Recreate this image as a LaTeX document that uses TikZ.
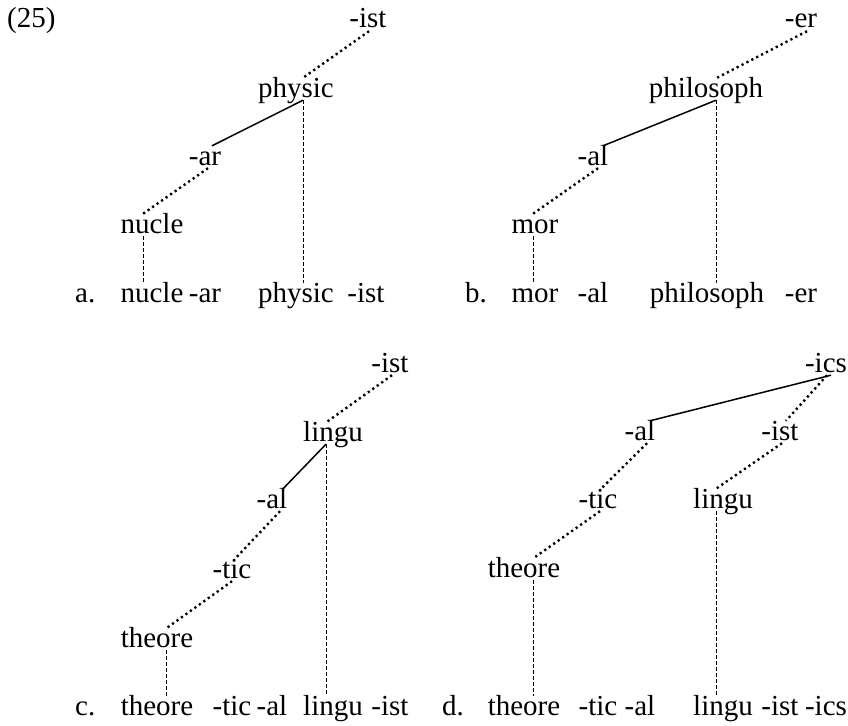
\documentclass[tikz,border=0pt]{standalone}
\usepackage{fontspec}
\setmainfont{Liberation Serif}
\usepackage{tikz}
\tikzset{
	morph/.style    ={anchor=base, inner sep=2pt, text height=17pt, text depth=1pt},
	exlabel/.style  ={anchor=base west, inner sep=0pt},
	dotlink/.style  ={line width=2.4pt, dash pattern=on 2.2pt off 3.3pt},
	solidlink/.style={line width=1.5pt},
	dashlink/.style ={line width=0.9pt, dash pattern=on 3.5pt off 2.5pt},
}
\begin{document}
\begin{tikzpicture}[x=1pt, y=-1pt, font=\fontsize{29}{35}\selectfont]
	\useasboundingbox (0,0) rectangle (848,725);
	\node[exlabel] (num) at (7,28) {(25)};
	% a.
	\node[morph] (aIst) at (368,28) {-ist};
	\node[morph] (aPhys) at (296,97) {physic};
	\node[morph] (aAr) at (205,165) {-ar};
	\node[morph] (aNucle) at (152,233) {nucle};
	\node[exlabel] (aLab) at (75,302) {a.};
	\node[morph] (aNucleS) at (152,302) {nucle};
	\node[morph] (aArS) at (205,302) {-ar};
	\node[morph] (aPhysS) at (296,302) {physic};
	\node[morph] (aIstS) at (366,302) {-ist};
	\draw[dotlink] ([xshift=1pt]aIst.south) -- ([xshift=7pt]aPhys.north);
	\draw[solidlink] ([xshift=7pt]aPhys.south) -- ([xshift=7pt]aAr.north);
	\draw[dashlink] ([xshift=7pt]aPhys.south) -- ([xshift=7pt]aPhysS.north);
	\draw[dotlink] ([xshift=3pt]aAr.south) -- ([xshift=-9pt]aNucle.north);
	\draw[dashlink] ([xshift=-9pt]aNucle.south) -- ([xshift=-9pt]aNucleS.north);
	% b.
	\node[morph] (bEr) at (801,28) {-er};
	\node[morph] (bPhil) at (706,97) {philosoph};
	\node[morph] (bAl) at (593,165) {-al};
	\node[morph] (bMor) at (535,233) {mor};
	\node[exlabel] (bLab) at (465,302) {b.};
	\node[morph] (bMorS) at (535,302) {mor};
	\node[morph] (bAlS) at (593,302) {-al};
	\node[morph] (bPhilS) at (707,302) {philosoph};
	\node[morph] (bErS) at (801,302) {-er};
	\draw[dotlink] ([xshift=6pt]bEr.south) -- ([xshift=11pt]bPhil.north);
	\draw[solidlink] ([xshift=10pt]bPhil.south) -- ([xshift=10pt]bAl.north);
	\draw[dashlink] ([xshift=10pt]bPhil.south) -- ([xshift=9pt]bPhilS.north);
	\draw[dotlink] ([xshift=5pt]bAl.south) -- ([xshift=-2pt]bMor.north);
	\draw[dashlink] ([xshift=-2pt]bMor.south) -- ([xshift=-2pt]bMorS.north);
	% c.
	\node[morph] (cIst) at (390,372) {-ist};
	\node[morph] (cLing) at (333,441) {lingu};
	\node[morph] (cAl) at (272,508) {-al};
	\node[morph] (cTic) at (232,578) {-tic};
	\node[morph] (cTheo) at (157,647) {theore};
	\node[exlabel] (cLab) at (75,715) {c.};
	\node[morph] (cTheoS) at (157,715) {theore};
	\node[morph] (cTicS) at (232,715) {-tic};
	\node[morph] (cAlS) at (272,715) {-al};
	\node[morph] (cLingS) at (333,715) {lingu};
	\node[morph] (cIstS) at (390,715) {-ist};
	\draw[dotlink] ([xshift=2pt]cIst.south) -- ([xshift=-6pt]cLing.north);
	\draw[solidlink] ([xshift=-7pt]cLing.south) -- ([xshift=11pt]cAl.north);
	\draw[dashlink] ([xshift=-7pt]cLing.south) -- ([xshift=-7pt]cLingS.north);
	\draw[dotlink] ([xshift=8pt]cAl.south) -- ([xshift=3pt]cTic.north);
	\draw[dotlink] (cTic.south) -- ([xshift=10pt]cTheo.north);
	\draw[dashlink] ([xshift=9pt]cTheo.south) -- ([xshift=9pt]cTheoS.north);
	% d.
	\node[morph] (dIcs) at (826,372) {-ics};
	\node[morph] (dAl) at (640,440) {-al};
	\node[morph] (dIst) at (780,440) {-ist};
	\node[morph] (dTic) at (598,508) {-tic};
	\node[morph] (dLing) at (723,508) {lingu};
	\node[morph] (dTheo) at (524,577) {theore};
	\node[exlabel] (dLab) at (442,715) {d.};
	\node[morph] (dTheoS) at (524,715) {theore};
	\node[morph] (dTicS) at (598,715) {-tic};
	\node[morph] (dAlS) at (640,715) {-al};
	\node[morph] (dLingS) at (723,715) {lingu};
	\node[morph] (dIstS) at (780,715) {-ist};
	\node[morph] (dIcsS) at (826,715) {-ics};
	\draw[solidlink] ([xshift=5pt]dIcs.south) -- ([xshift=10pt]dAl.north);
	\draw[dotlink] ([xshift=1pt]dIcs.south) -- ([xshift=6pt]dIst.north);
	\draw[dotlink] ([xshift=7pt]dAl.south) -- ([xshift=3pt]dTic.north);
	\draw[dotlink] ([xshift=2pt]dIst.south) -- ([xshift=-7pt]dLing.north);
	\draw[dotlink] ([xshift=2pt]dTic.south) -- ([xshift=10pt]dTheo.north);
	\draw[dashlink] ([xshift=-7pt]dLing.south) -- ([xshift=-7pt]dLingS.north);
	\draw[dashlink] ([xshift=9pt]dTheo.south) -- ([xshift=9pt]dTheoS.north);
\end{tikzpicture}
\end{document}
